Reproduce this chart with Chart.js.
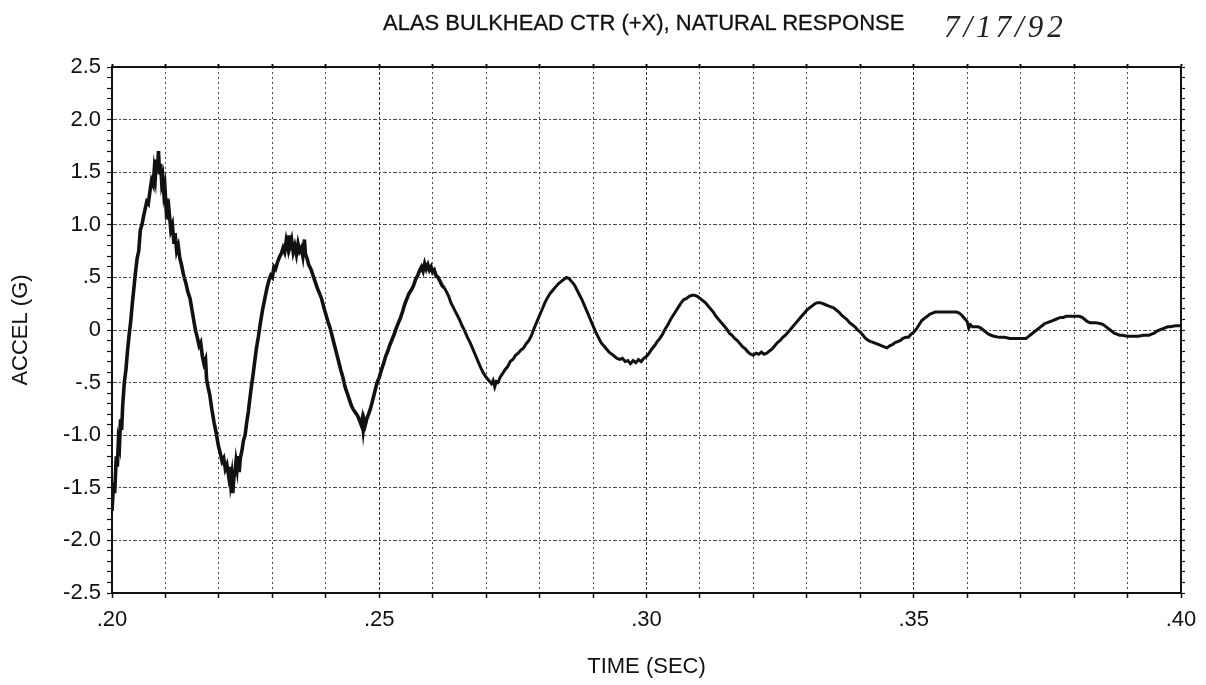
<!DOCTYPE html>
<html>
<head>
<meta charset="utf-8">
<title>ALAS Bulkhead CTR Natural Response</title>
<script src="https://cdn.jsdelivr.net/npm/chart.js@4/dist/chart.umd.min.js"></script>
<style>
    html, body { margin: 0; padding: 0; background: #fff; }
    #wrap { position: relative; width: 1206px; height: 685px; }
    #plot { position: absolute; left: 0; top: 0; }
    .plot-title {
        position: absolute; left: 383px; top: 10px;
        font: 22px 'Liberation Sans', Arial, sans-serif; color: #111;
        -webkit-text-stroke: 0.3px #111;
        white-space: nowrap;
    }
    .plot-date {
        position: absolute; left: 944px; top: 9px;
        font: italic 31px 'Liberation Serif', serif; color: #222;
        letter-spacing: 4px; white-space: nowrap;
    }
</style>
</head>
<body>
<div id="wrap">
    <canvas id="plot" width="1206" height="685"></canvas>
    <div class="plot-title">ALAS BULKHEAD CTR (+X), NATURAL RESPONSE</div>
    <div class="plot-date">7/17/92</div>
</div>
<script>
// axis tick labels
const xTickValues = [0.20, 0.25, 0.30, 0.35, 0.40];
const xTickLabels = ['.20', '.25', '.30', '.35', '.40'];
const yTickValues = [2.5, 2.0, 1.5, 1.0, 0.5, 0, -0.5, -1.0, -1.5, -2.0, -2.5];
const yTickLabels = ['2.5', '2.0', '1.5', '1.0', '.5', '0', '-.5', '-1.0', '-1.5', '-2.0', '-2.5'];

// accelerometer trace: [time (sec), accel (G)]
const trace = [
    [.2000,-1.72],[.2003,-1.45],[.2005,-1.55],[.2008,-1.20],[.2010,-1.30],[.2012,-1.05],[.2014,-1.10],
    [.2016,-0.85],[.2018,-0.95],[.2020,-0.72],[.2023,-0.50],[.2026,-0.38],[.2029,-0.20],[.2032,-0.05],
    [.2035,0.08],[.2038,0.25],[.2041,0.40],[.2044,0.55],[.2047,0.68],[.2050,0.75],[.2053,0.95],
    [.2056,1.00],[.2059,1.08],[.2062,1.15],[.2065,1.22],[.2068,1.20],[.2071,1.32],[.2074,1.42],
    [.2077,1.38],[.2079,1.52],[.2081,1.45],[.2083,1.62],[.2085,1.50],[.2087,1.70],[.2089,1.48],
    [.2091,1.58],[.2093,1.40],[.2095,1.45],[.2097,1.30],[.2099,1.36],[.2101,1.18],[.2103,1.25],
    [.2105,1.05],[.2107,1.12],[.2110,0.95],[.2113,1.00],[.2116,0.82],[.2118,0.92],[.2121,0.75],
    [.2124,0.80],[.2127,0.68],[.2130,0.62],[.2134,0.52],[.2138,0.45],[.2142,0.36],[.2146,0.30],
    [.2150,0.18],[.2154,0.06],[.2157,-0.02],[.2160,-0.08],[.2163,-0.15],[.2166,-0.12],[.2169,-0.25],
    [.2172,-0.32],[.2175,-0.28],[.2177,-0.47],[.2180,-0.55],[.2183,-0.62],[.2187,-0.76],[.2191,-0.88],
    [.2195,-0.98],[.2199,-1.10],[.2203,-1.18],[.2206,-1.25],[.2209,-1.22],[.2212,-1.32],[.2215,-1.28],
    [.2218,-1.38],[.2220,-1.30],[.2222,-1.45],[.2224,-1.38],[.2226,-1.55],[.2228,-1.40],[.2230,-1.35],
    [.2232,-1.25],[.2234,-1.32],[.2236,-1.20],[.2238,-1.35],[.2240,-1.22],[.2243,-1.15],[.2246,-1.05],
    [.2249,-1.00],[.2252,-0.88],[.2255,-0.78],[.2258,-0.65],[.2261,-0.53],[.2264,-0.42],[.2267,-0.30],
    [.2270,-0.18],[.2274,-0.06],[.2278,0.08],[.2282,0.20],[.2286,0.30],[.2290,0.40],[.2294,0.48],
    [.2297,0.52],[.2300,0.50],[.2303,0.60],[.2306,0.58],[.2310,0.65],[.2314,0.70],[.2317,0.73],
    [.2320,0.78],[.2323,0.74],[.2326,0.85],[.2329,0.78],[.2331,0.90],[.2333,0.80],[.2336,0.86],
    [.2339,0.74],[.2342,0.80],[.2345,0.72],[.2348,0.82],[.2351,0.75],[.2354,0.78],[.2357,0.70],
    [.2360,0.86],[.2362,0.72],[.2365,0.68],[.2368,0.62],[.2372,0.58],[.2376,0.52],[.2380,0.46],
    [.2384,0.40],[.2388,0.35],[.2392,0.30],[.2396,0.22],[.2400,0.15],[.2404,0.08],[.2408,0.02],
    [.2412,-0.06],[.2416,-0.14],[.2420,-0.22],[.2424,-0.30],[.2428,-0.38],[.2432,-0.45],[.2436,-0.54],
    [.2440,-0.60],[.2444,-0.66],[.2448,-0.72],[.2452,-0.76],[.2456,-0.79],[.2460,-0.82],[.2463,-0.86],
    [.2466,-0.90],[.2468,-0.85],[.2470,-0.95],[.2472,-0.86],[.2474,-0.90],[.2477,-0.84],[.2480,-0.80],
    [.2484,-0.74],[.2488,-0.66],[.2492,-0.58],[.2496,-0.50],[.2500,-0.45],[.2504,-0.38],[.2508,-0.32],
    [.2512,-0.25],[.2516,-0.20],[.2520,-0.14],[.2524,-0.09],[.2528,-0.04],[.2532,0.02],[.2536,0.07],
    [.2540,0.12],[.2544,0.18],[.2548,0.25],[.2552,0.30],[.2556,0.35],[.2560,0.38],[.2564,0.42],
    [.2568,0.48],[.2572,0.52],[.2576,0.57],[.2579,0.60],[.2582,0.56],[.2585,0.63],[.2588,0.58],
    [.2591,0.62],[.2594,0.57],[.2597,0.60],[.2600,0.55],[.2603,0.57],[.2606,0.52],[.2610,0.50],
    [.2614,0.46],[.2618,0.42],[.2622,0.40],[.2626,0.36],[.2630,0.32],[.2634,0.26],[.2638,0.22],
    [.2642,0.18],[.2646,0.14],[.2650,0.10],[.2655,0.04],[.2660,-0.01],[.2665,-0.07],[.2670,-0.12],
    [.2675,-0.18],[.2680,-0.24],[.2685,-0.30],[.2690,-0.36],[.2695,-0.41],[.2700,-0.45],[.2705,-0.48],
    [.2710,-0.51],[.2713,-0.48],[.2716,-0.54],[.2719,-0.49],[.2722,-0.50],[.2726,-0.45],[.2730,-0.42],
    [.2735,-0.38],[.2740,-0.35],[.2745,-0.30],[.2750,-0.28],[.2755,-0.24],[.2760,-0.22],[.2765,-0.19],
    [.2770,-0.17],[.2775,-0.13],[.2780,-0.10],[.2785,-0.05],[.2790,0.02],[.2795,0.08],[.2800,0.14],
    [.2805,0.20],[.2810,0.26],[.2815,0.31],[.2820,0.35],[.2825,0.38],[.2830,0.41],[.2835,0.44],
    [.2840,0.46],[.2845,0.48],[.2850,0.50],[.2855,0.49],[.2860,0.46],[.2865,0.43],[.2870,0.38],
    [.2875,0.33],[.2880,0.28],[.2885,0.22],[.2890,0.16],[.2895,0.10],[.2900,0.04],[.2905,-0.02],
    [.2910,-0.07],[.2915,-0.12],[.2920,-0.15],[.2925,-0.18],[.2930,-0.21],[.2935,-0.23],[.2940,-0.25],
    [.2945,-0.27],[.2950,-0.28],[.2955,-0.27],[.2960,-0.30],[.2965,-0.29],[.2970,-0.32],[.2975,-0.29],
    [.2980,-0.31],[.2985,-0.28],[.2990,-0.30],[.2995,-0.27],[.3000,-0.25],[.3005,-0.22],[.3010,-0.18],
    [.3015,-0.15],[.3020,-0.11],[.3025,-0.08],[.3030,-0.04],[.3035,0.01],[.3040,0.05],[.3045,0.10],
    [.3050,0.14],[.3055,0.18],[.3060,0.22],[.3065,0.26],[.3070,0.29],[.3075,0.30],[.3080,0.32],
    [.3085,0.33],[.3090,0.33],[.3095,0.32],[.3100,0.30],[.3105,0.28],[.3110,0.26],[.3115,0.23],
    [.3120,0.20],[.3125,0.17],[.3130,0.13],[.3135,0.10],[.3140,0.07],[.3145,0.04],[.3150,0.01],
    [.3155,-0.03],[.3160,-0.05],[.3165,-0.08],[.3170,-0.10],[.3175,-0.13],[.3180,-0.16],[.3185,-0.18],
    [.3190,-0.21],[.3195,-0.23],[.3200,-0.24],[.3205,-0.22],[.3210,-0.23],[.3215,-0.21],[.3220,-0.23],
    [.3225,-0.22],[.3230,-0.20],[.3235,-0.18],[.3240,-0.15],[.3245,-0.12],[.3250,-0.10],[.3255,-0.07],
    [.3260,-0.05],[.3265,-0.02],[.3270,0.01],[.3275,0.04],[.3280,0.07],[.3285,0.10],[.3290,0.13],
    [.3295,0.16],[.3300,0.19],[.3305,0.21],[.3310,0.23],[.3315,0.25],[.3320,0.26],[.3325,0.26],
    [.3330,0.25],[.3335,0.24],[.3340,0.23],[.3345,0.22],[.3350,0.21],[.3355,0.19],[.3360,0.17],
    [.3365,0.14],[.3370,0.12],[.3375,0.10],[.3380,0.07],[.3385,0.05],[.3390,0.03],[.3395,0.00],
    [.3400,-0.02],[.3405,-0.05],[.3410,-0.08],[.3415,-0.10],[.3420,-0.11],[.3425,-0.12],[.3430,-0.13],
    [.3435,-0.14],[.3440,-0.15],[.3445,-0.16],[.3450,-0.17],[.3455,-0.15],[.3460,-0.14],[.3465,-0.12],
    [.3470,-0.11],[.3475,-0.10],[.3480,-0.08],[.3485,-0.07],[.3490,-0.07],[.3495,-0.04],[.3500,-0.02],
    [.3505,0.01],[.3510,0.05],[.3515,0.09],[.3520,0.11],[.3525,0.13],[.3530,0.15],[.3535,0.16],
    [.3540,0.17],[.3550,0.17],[.3560,0.17],[.3570,0.17],[.3580,0.17],[.3585,0.16],[.3590,0.14],
    [.3595,0.11],[.3600,0.08],[.3603,0.02],[.3606,0.05],[.3610,0.03],[.3615,0.03],[.3620,0.03],
    [.3625,0.02],[.3630,0.00],[.3635,-0.02],[.3640,-0.04],[.3645,-0.05],[.3650,-0.06],[.3660,-0.07],
    [.3670,-0.07],[.3680,-0.08],[.3690,-0.08],[.3700,-0.08],[.3710,-0.08],[.3715,-0.06],[.3720,-0.04],
    [.3725,-0.02],[.3730,0.00],[.3735,0.02],[.3740,0.04],[.3745,0.06],[.3750,0.07],[.3755,0.08],
    [.3760,0.09],[.3765,0.10],[.3770,0.11],[.3775,0.12],[.3780,0.12],[.3785,0.13],[.3790,0.13],
    [.3800,0.13],[.3810,0.13],[.3815,0.12],[.3820,0.10],[.3825,0.08],[.3830,0.07],[.3840,0.07],
    [.3850,0.06],[.3855,0.05],[.3860,0.03],[.3865,0.01],[.3870,-0.01],[.3875,-0.03],[.3880,-0.04],
    [.3885,-0.05],[.3890,-0.05],[.3900,-0.06],[.3910,-0.06],[.3920,-0.06],[.3930,-0.05],[.3940,-0.05],
    [.3945,-0.04],[.3950,-0.03],[.3955,-0.01],[.3960,0.00],[.3965,0.01],[.3970,0.02],[.3975,0.03],
    [.3980,0.03],[.3990,0.04],[.4000,0.04]
];

const INK = '#111';
const GRID = '#4a4a4a';
Chart.defaults.font.family = "'Liberation Sans', Arial, sans-serif";
Chart.defaults.font.size = 22;
Chart.defaults.color = INK;

const near = (a, b) => Math.abs(a - b) < 1e-6;
const xLabel = v => { const k = xTickValues.findIndex(t => near(t, v)); return k >= 0 ? xTickLabels[k] : ''; };
const yLabel = v => { const k = yTickValues.findIndex(t => near(t, v)); return k >= 0 ? yTickLabels[k] : ''; };
const isMajorY = v => yTickValues.some(t => near(t, v));
const isMajorX = v => xTickValues.some(t => near(t, v));

const frame = { display: true, color: INK, width: 2 };

new Chart(document.getElementById('plot'), {
    type: 'line',
    data: {
        datasets: [{
            data: trace.map(([t, g]) => ({ x: t, y: g })),
            borderColor: INK,
            borderWidth: 3,
            pointRadius: 0,
            tension: 0,
            segment: {
                // the early cycles are much noisier, so the trace reads thicker there
                borderWidth: ctx => ctx.p0.parsed.x < 0.262 ? 3.6 : 3
            }
        }]
    },
    options: {
        responsive: false,
        animation: false,
        layout: { padding: 0 },
        plugins: { legend: { display: false }, tooltip: { enabled: false } },
        scales: {
            x: {
                type: 'linear', position: 'bottom',
                min: 0.2, max: 0.4,
                afterFit: s => { s.height = 92; },
                ticks: { stepSize: 0.01, autoSkip: false, maxRotation: 0, padding: 9, callback: xLabel },
                grid: {
                    color: c => isMajorX(c.tick.value) ? '#333' : GRID,
                    lineWidth: 1, tickLength: 5, tickColor: INK, tickWidth: 1.5
                },
                border: Object.assign({}, frame, { dash: c => isMajorX(c.tick.value) ? [3, 2] : [2, 3] }),
                title: { display: true, text: 'TIME (SEC)', padding: { top: 0, bottom: 5 } }
            },
            x2: {
                type: 'linear', position: 'top', display: true,
                min: 0.2, max: 0.4,
                afterFit: s => { s.height = 67; },
                ticks: { stepSize: 0.01, autoSkip: false, display: false },
                grid: { drawOnChartArea: false, tickLength: 3, tickColor: INK, tickWidth: 2 },
                border: frame
            },
            y: {
                type: 'linear', position: 'left',
                min: -2.5, max: 2.5,
                afterFit: s => { s.width = 112; },
                ticks: { stepSize: 0.1, autoSkip: false, padding: 6, callback: yLabel },
                grid: {
                    color: c => isMajorY(c.tick.value) ? GRID : 'rgba(0,0,0,0)',
                    lineWidth: 1, tickLength: 5, tickColor: INK, tickWidth: 1.2
                },
                border: Object.assign({}, frame, { dash: [4, 2, 2, 2] }),
                title: { display: true, text: 'ACCEL (G)', padding: { top: 8, bottom: 0 } }
            },
            y2: {
                type: 'linear', position: 'right', display: true,
                min: -2.5, max: 2.5,
                afterFit: s => { s.width = 25; },
                ticks: { stepSize: 0.1, autoSkip: false, display: false },
                grid: { drawOnChartArea: false, tickLength: 4, tickColor: INK, tickWidth: 1.2 },
                border: frame
            }
        }
    }
});
</script>
</body>
</html>
